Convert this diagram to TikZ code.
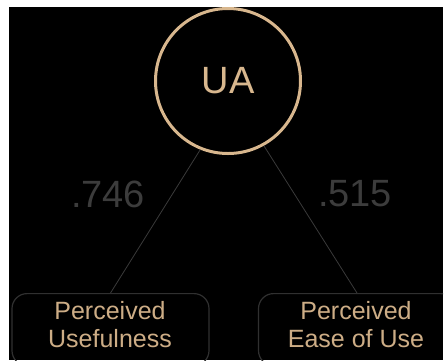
\documentclass[tikz,border=0pt]{standalone}
\usepackage{fontspec}
\setmainfont{Liberation Sans}
\definecolor{tan}{HTML}{D8B78E}
\definecolor{tantext}{HTML}{CDAD86}
\definecolor{lblgray}{HTML}{3C3C3C}
\definecolor{linegray}{HTML}{3A3A3A}
\definecolor{boxgray}{HTML}{303030}
\tikzset{
  latent/.style={circle, draw=tan, line width=3pt, minimum size=145pt, inner sep=0pt,
    text=tan, font=\fontsize{38}{44}\selectfont},
  coef/.style={text=lblgray, font=\fontsize{38}{44}\selectfont, inner sep=0pt},
  itembox/.style={draw=boxgray, line width=1.2pt, rounded corners=15pt,
    minimum width=197pt, minimum height=72pt, inner sep=0pt},
  itemtext/.style={text=tantext, align=center, inner sep=0pt,
    font=\fontsize{25}{28}\selectfont},
  path/.style={draw=linegray, line width=0.8pt}
}
\begin{document}
\begin{tikzpicture}[x=1pt,y=-1pt]
\useasboundingbox (0,0) rectangle (444,360);
\fill[white] (0,0) rectangle (444,360);
\fill[black] (9,7) rectangle (443,360);
\begin{scope}
\clip (9,7) rectangle (443,360);
\node[latent] (UA) at (228,81) {UA};
\node[itembox, anchor=north] (B1) at (110.5,293) {};
\node[itembox, anchor=north] (B2) at (357,293) {};
\node[itemtext] (T1) at (110,325) {Perceived\\Usefulness};
\node[itemtext] (T2) at (356,325) {Perceived\\Ease of Use};
\node[coef] (L1) at (108,194) {.746};
\node[coef] (L2) at (355,194) {.515};
\draw[path] (UA.248) -- (B1.north);
\draw[path] (UA.299) -- (B2.north);
\end{scope}
\end{tikzpicture}
\end{document}
